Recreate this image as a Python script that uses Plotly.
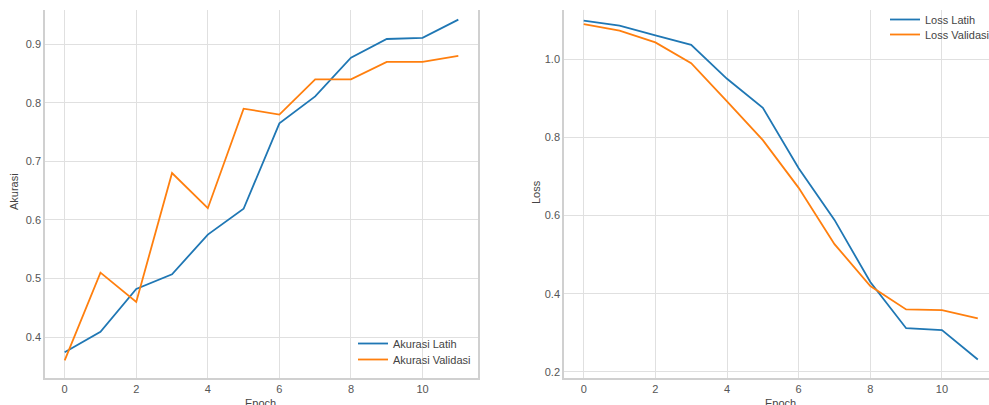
import plotly.graph_objects as go

epochs = list(range(12))
akurasi_latih = [0.374, 0.409, 0.482, 0.507, 0.575, 0.619, 0.765, 0.811, 0.877, 0.909, 0.911, 0.942]
akurasi_validasi = [0.36, 0.51, 0.46, 0.68, 0.62, 0.79, 0.78, 0.84, 0.84, 0.87, 0.87, 0.88]
loss_latih = [1.099, 1.086, 1.061, 1.037, 0.950, 0.876, 0.721, 0.589, 0.430, 0.312, 0.307, 0.232]
loss_validasi = [1.090, 1.073, 1.043, 0.990, 0.892, 0.793, 0.671, 0.527, 0.420, 0.360, 0.358, 0.337]

x_ticks = [0, 2, 4, 6, 8, 10]
acc_ticks = [0.4, 0.5, 0.6, 0.7, 0.8, 0.9]
loss_ticks = [0.2, 0.4, 0.6, 0.8, 1.0]

BLUE = "#1f77b4"
ORANGE = "#ff7f0e"
FONT = "Liberation Sans, Arial, sans-serif"
W, H = 989, 405

fig = go.Figure()
fig.add_trace(go.Scatter(x=epochs, y=akurasi_latih, mode="lines", name="Akurasi Latih", showlegend=True,
                         line=dict(color=BLUE, width=1.8), xaxis="x", yaxis="y", legend="legend"))
fig.add_trace(go.Scatter(x=epochs, y=akurasi_validasi, mode="lines", name="Akurasi Validasi", showlegend=True,
                         line=dict(color=ORANGE, width=1.8), xaxis="x", yaxis="y", legend="legend2"))
fig.add_trace(go.Scatter(x=epochs, y=loss_latih, mode="lines", name="Loss Latih", showlegend=True,
                         line=dict(color=BLUE, width=1.8), xaxis="x2", yaxis="y2", legend="legend3"))
fig.add_trace(go.Scatter(x=epochs, y=loss_validasi, mode="lines", name="Loss Validasi", showlegend=True,
                         line=dict(color=ORANGE, width=1.8), xaxis="x2", yaxis="y2", legend="legend4"))

ydom = [(H - 378) / H, (H - 10) / H]
axis_common = dict(showgrid=True, gridcolor="#e0e0e0", gridwidth=1.2, showline=True,
                   linecolor="#d0d0d0", linewidth=1.5, zeroline=False, ticks="",
                   tickfont=dict(family=FONT, size=11, color="#555555"))

legend_style = dict(xanchor="left", yanchor="top", bgcolor="rgba(0,0,0,0)",
                    font=dict(family=FONT, size=11, color="#444444"),
                    tracegroupgap=0, itemwidth=30)

label_font = dict(family=FONT, size=11, color="#444444")

fig.update_layout(
    width=W, height=H,
    autosize=False,
    showlegend=True,
    margin=dict(l=0, r=0, t=0, b=0, autoexpand=False),
    paper_bgcolor="white", plot_bgcolor="white",
    font=dict(family=FONT, size=11, color="#444444"),
    xaxis=dict(domain=[45 / W, 478 / W], range=[-0.55, 11.55], tickvals=x_ticks,
               anchor="y", **axis_common),
    yaxis=dict(domain=ydom, range=[0.330, 0.9585], tickvals=acc_ticks, tickformat=".1f",
               anchor="x", mirror=True, **axis_common),
    xaxis2=dict(domain=[564 / W, 1.0], range=[-0.55, (989 - 584) / 35.8], tickvals=x_ticks,
                anchor="y2", **axis_common),
    yaxis2=dict(domain=ydom, range=[0.1846, 1.126], tickvals=loss_ticks, tickformat=".1f",
                anchor="x2", **axis_common),
    legend=dict(x=353 / W, y=(H - 329) / H, **legend_style),
    legend2=dict(x=353 / W, y=(H - 345) / H, **legend_style),
    legend3=dict(x=885 / W, y=(H - 5) / H, **legend_style),
    legend4=dict(x=885 / W, y=(H - 20) / H, **legend_style),
    annotations=[
        dict(text="Akurasi", x=14 / W, y=(H - 192) / H, xref="paper", yref="paper",
             xanchor="center", yanchor="middle",
             showarrow=False, textangle=-90, font=label_font),
        dict(text="Epoch", x=260 / W, y=(H - 403) / H, xref="paper", yref="paper",
             xanchor="center", yanchor="middle",
             showarrow=False, font=label_font),
        dict(text="Loss", x=536 / W, y=(H - 192) / H, xref="paper", yref="paper",
             xanchor="center", yanchor="middle",
             showarrow=False, textangle=-90, font=label_font),
        dict(text="Epoch", x=780 / W, y=(H - 403) / H, xref="paper", yref="paper",
             xanchor="center", yanchor="middle",
             showarrow=False, font=label_font),
    ],
)

post = (
    "document.documentElement.style.overflow='hidden';"
    "document.body.style.margin='0';document.body.style.overflow='hidden';"
)

fig.write_html("out.html", config={"displayModeBar": False, "responsive": False},
               post_script=post)
